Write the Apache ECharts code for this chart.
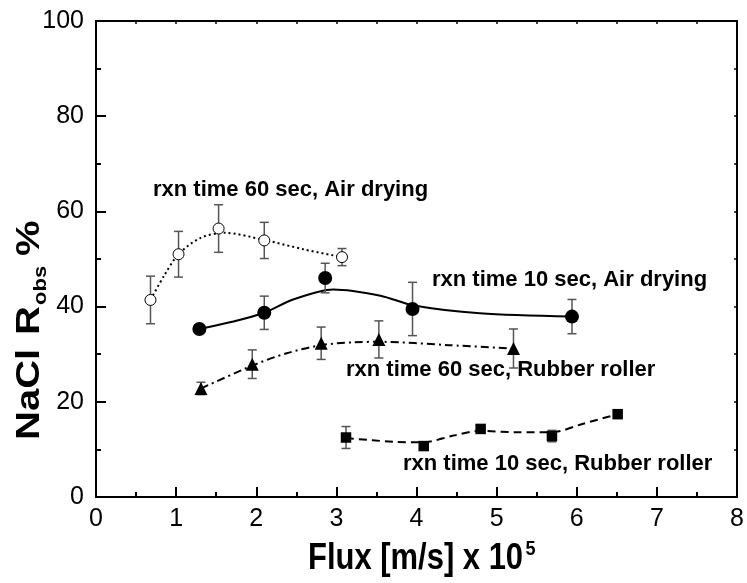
<!DOCTYPE html>
<html>
<head>
<meta charset="utf-8">
<script src="https://cdn.jsdelivr.net/npm/echarts@6/dist/echarts.min.js"></script>
<style>
  html, body { margin: 0; padding: 0; background: #fff; }
  #chart { width: 747px; height: 583px; }
</style>
</head>
<body>
<div id="chart"></div>
<script>
// Flux (x1e5 m/s), observed NaCl rejection (%), error half-width (%)
const air60X   = [0.68, 1.03, 1.53, 2.10, 3.07];
const air60Y   = [41.4, 51.0, 56.4, 53.9, 50.4];
const air60Err = [5.0, 4.8, 5.0, 3.8, 1.8];

const air10X   = [1.29, 2.10, 2.86, 3.95, 5.94];
const air10Y   = [35.3, 38.7, 46.0, 39.5, 37.9];
const air10Err = [0, 3.5, 3.1, 5.6, 3.6];

const roller60X   = [1.31, 1.95, 2.81, 3.53, 5.21];
const roller60Y   = [22.8, 27.9, 32.3, 33.1, 31.2];
const roller60Err = [1.3, 3.0, 3.4, 3.9, 4.1];

const roller10X   = [3.12, 4.09, 4.80, 5.69, 6.51];
const roller10Y   = [12.5, 10.7, 14.3, 12.8, 17.4];
const roller10Err = [2.3, 0, 0, 1.2, 0];

// Trend curves through each data set
const air60FitX = [0.68, 0.85, 1.03, 1.30, 1.60, 2.10, 2.60, 3.07];
const air60FitY = [41.4, 46.5, 51.0, 54.4, 55.5, 54.0, 52.0, 50.4];

const air10FitX = [1.29, 1.70, 2.10, 2.46, 2.96, 3.55, 3.95, 4.79, 5.94];
const air10FitY = [35.3, 36.8, 38.7, 41.5, 43.6, 42.3, 40.3, 38.6, 37.9];

const roller60FitX = [1.31, 1.95, 2.38, 2.81, 3.21, 3.55, 4.40, 5.21];
const roller60FitY = [22.8, 27.6, 30.2, 31.9, 32.5, 32.6, 31.9, 31.2];

const roller10FitX = [3.12, 3.71, 4.09, 4.46, 4.80, 5.25, 5.69, 6.08, 6.51];
const roller10FitY = [12.4, 11.6, 11.5, 12.9, 13.9, 13.6, 13.6, 15.4, 17.4];

// Axis ticks
const xTicks = [0, 1, 2, 3, 4, 5, 6, 7, 8];
const yTicks = [0, 20, 40, 60, 80, 100];

const FONT = "'Liberation Sans', Arial, Helvetica, sans-serif";
const zip = (xs, ys) => xs.map((x, i) => [x, ys[i]]);
const zip3 = (xs, ys, es) => xs.map((x, i) => [x, ys[i], es[i]]);

function errorBars(params, api) {
  const x = api.value(0), y = api.value(1), e = api.value(2);
  if (!e) return null;
  const top = api.coord([x, y + e]);
  const bot = api.coord([x, y - e]);
  const hw = 4.5;
  const st = { stroke: '#555', lineWidth: 1.5 };
  return {
    type: 'group',
    children: [
      { type: 'line', shape: { x1: top[0], y1: top[1], x2: bot[0], y2: bot[1] }, style: st },
      { type: 'line', shape: { x1: top[0] - hw, y1: top[1], x2: top[0] + hw, y2: top[1] }, style: st },
      { type: 'line', shape: { x1: bot[0] - hw, y1: bot[1], x2: bot[0] + hw, y2: bot[1] }, style: st }
    ]
  };
}

function fitLine(xs, ys, dash) {
  return {
    type: 'line', data: zip(xs, ys), xAxisIndex: 0, yAxisIndex: 0,
    showSymbol: false, smooth: 0.3, silent: true, z: 2,
    lineStyle: { color: '#000', width: 2, type: dash }
  };
}

function errSeries(xs, ys, es) {
  return {
    type: 'custom', data: zip3(xs, ys, es), xAxisIndex: 0, yAxisIndex: 0,
    encode: { x: 0, y: 1 }, renderItem: errorBars, z: 3, silent: true
  };
}

function markers(xs, ys, symbol, size, filled) {
  return {
    type: 'scatter', data: zip(xs, ys), xAxisIndex: 0, yAxisIndex: 0,
    symbol: symbol, symbolSize: size, z: 4, silent: true,
    itemStyle: filled
      ? { color: '#000', opacity: 1 }
      : { color: '#fff', borderColor: '#000', borderWidth: 1, opacity: 1 }
  };
}

const axisBlack = { color: '#000', width: 2 };
const xMin = xTicks[0], xMax = xTicks[xTicks.length - 1];
const yMin = yTicks[0], yMax = yTicks[yTicks.length - 1];

const option = {
  backgroundColor: '#fff',
  animation: false,
  grid: { left: 96, right: 9, top: 21, bottom: 86, containLabel: false },
  xAxis: [
    {
      type: 'value', position: 'bottom', min: xMin, max: xMax, interval: xTicks[1] - xTicks[0],
      axisLine: { onZero: false, lineStyle: axisBlack },
      axisTick: { inside: true, length: 10, lineStyle: axisBlack },
      minorTick: { show: true, splitNumber: 2, length: 5, lineStyle: axisBlack },
      splitLine: { show: false },
      axisLabel: { fontSize: 25, color: '#000', fontFamily: FONT, margin: 10 }
    },
    {
      type: 'value', position: 'top', min: xMin, max: xMax, interval: 0.5,
      axisLine: { onZero: false, lineStyle: axisBlack },
      axisTick: { inside: true, length: 3, lineStyle: { color: '#000', width: 1.5 } },
      splitLine: { show: false }, axisLabel: { show: false }
    }
  ],
  yAxis: [
    {
      type: 'value', position: 'left', min: yMin, max: yMax, interval: yTicks[1] - yTicks[0],
      axisLine: { onZero: false, lineStyle: axisBlack },
      axisTick: { inside: true, length: 10, lineStyle: axisBlack },
      minorTick: { show: true, splitNumber: 2, length: 5, lineStyle: axisBlack },
      splitLine: { show: false },
      axisLabel: { fontSize: 25, color: '#000', fontFamily: FONT, margin: 12 }
    },
    {
      type: 'value', position: 'right', min: yMin, max: yMax, interval: 10,
      axisLine: { onZero: false, lineStyle: axisBlack },
      axisTick: { inside: true, length: 3, lineStyle: { color: '#000', width: 1.5 } },
      splitLine: { show: false }, axisLabel: { show: false }
    }
  ],
  series: [
    fitLine(air60FitX, air60FitY, [2, 3]),
    fitLine(air10FitX, air10FitY, 'solid'),
    fitLine(roller60FitX, roller60FitY, [8, 4, 2, 4]),
    fitLine(roller10FitX, roller10FitY, [8, 5]),
    errSeries(air60X, air60Y, air60Err),
    errSeries(air10X, air10Y, air10Err),
    errSeries(roller60X, roller60Y, roller60Err),
    errSeries(roller10X, roller10Y, roller10Err),
    markers(air60X, air60Y, 'circle', 11, false),
    markers(air10X, air10Y, 'circle', 14, true),
    markers(roller60X, roller60Y, 'triangle', 13, true),
    markers(roller10X, roller10Y, 'rect', 10.5, true)
  ],
  graphic: [
    // Curve annotations
    { type: 'text', x: 153, y: 190, z: 10, style: { text: 'rxn time 60 sec, Air drying', font: 'bold 22px ' + FONT, fill: '#000', align: 'left', verticalAlign: 'middle' } },
    { type: 'text', x: 432, y: 280, z: 10, style: { text: 'rxn time 10 sec, Air drying', font: 'bold 22px ' + FONT, fill: '#000', align: 'left', verticalAlign: 'middle' } },
    { type: 'text', x: 346, y: 370, z: 10, style: { text: 'rxn time 60 sec, Rubber roller', font: 'bold 22px ' + FONT, fill: '#000', align: 'left', verticalAlign: 'middle' } },
    { type: 'text', x: 403, y: 464, z: 10, style: { text: 'rxn time 10 sec, Rubber roller', font: 'bold 22px ' + FONT, fill: '#000', align: 'left', verticalAlign: 'middle' } },
    // X axis title with superscript exponent
    {
      type: 'group', x: 308, y: 559, scaleX: 0.86, z: 10,
      children: [
        { type: 'text', x: 0, y: 0, style: { text: 'Flux [m/s] x 10', font: 'bold 36px ' + FONT, fill: '#000', align: 'left', verticalAlign: 'middle' } },
        { type: 'text', x: 253, y: -10, style: { text: '5', font: 'bold 21px ' + FONT, fill: '#000', align: 'left', verticalAlign: 'middle' } }
      ]
    },
    // Y axis title with subscript
    {
      type: 'group', x: 30, y: 440, rotation: Math.PI / 2, scaleY: 0.82, z: 10,
      children: [
        { type: 'text', x: 0, y: 0, style: { text: 'NaCl', font: 'bold 40px ' + FONT, fill: '#000', align: 'left', verticalAlign: 'middle' } },
        { type: 'text', x: 105, y: 0, style: { text: 'R', font: 'bold 40px ' + FONT, fill: '#000', align: 'left', verticalAlign: 'middle' } },
        { type: 'text', x: 135, y: 14, style: { text: 'obs', font: 'bold 22px ' + FONT, fill: '#000', align: 'left', verticalAlign: 'middle' } },
        { type: 'text', x: 184, y: 0, style: { text: '%', font: 'bold 40px ' + FONT, fill: '#000', align: 'left', verticalAlign: 'middle' } }
      ]
    }
  ]
};

const chart = echarts.init(document.getElementById('chart'), null, { renderer: 'canvas' });
chart.setOption(option);
</script>
</body>
</html>
